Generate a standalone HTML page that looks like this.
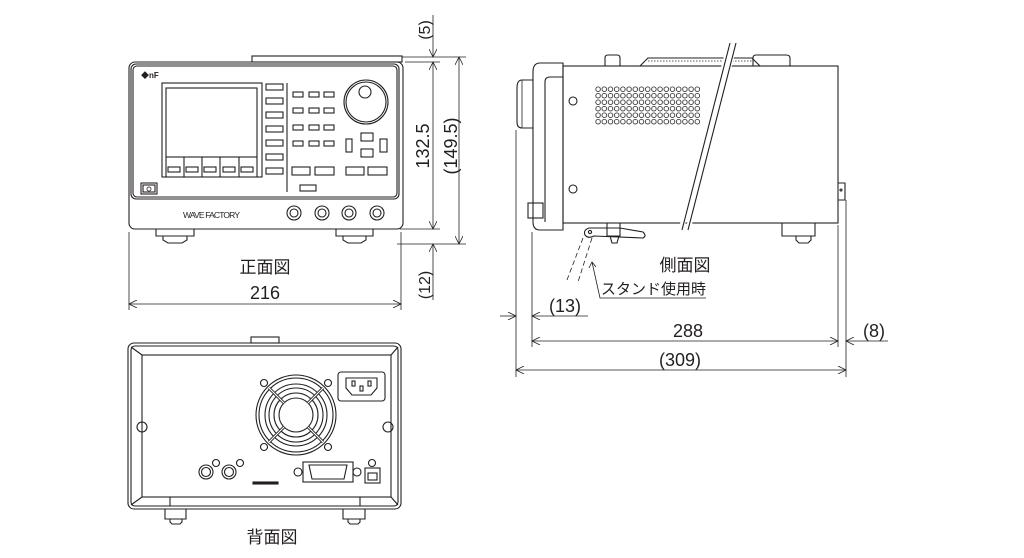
<!DOCTYPE html>
<html><head><meta charset="utf-8"><style>
html,body{margin:0;padding:0;background:#fff;}
svg{display:block;}
text{font-family:"Liberation Sans","Noto Sans CJK JP",sans-serif;fill:#231f20;}
</style></head><body>
<svg width="1024" height="558" viewBox="0 0 1024 558" xmlns="http://www.w3.org/2000/svg">
<defs>
<pattern id="vent" x="595" y="86" width="6.2" height="6.5" patternUnits="userSpaceOnUse">
<circle cx="3.1" cy="3.2" r="2.3" fill="none" stroke="#231f20" stroke-width="0.8"/>
</pattern>
<marker id="ar" viewBox="0 0 10 10" refX="10" refY="5" markerWidth="10" markerHeight="8" orient="auto-start-reverse" markerUnits="userSpaceOnUse">
<path d="M0,0 L10,5 L0,10" fill="none" stroke="#231f20" stroke-width="1"/>
</marker>
</defs>
<g fill="none" stroke="#231f20" stroke-width="1.1">
<rect x="252" y="56" width="150" height="6"/>
<rect x="129" y="62" width="274" height="167" rx="6"/>
<rect x="131" y="64" width="268" height="135" rx="5"/>
<rect x="133" y="66" width="264" height="131" rx="4"/>
<rect x="162" y="83" width="100" height="94"/>
<rect x="166" y="88" width="91" height="69"/>
<line x1="166" y1="157" x2="166" y2="177"/><line x1="184" y1="157" x2="184" y2="177"/><line x1="202" y1="157" x2="202" y2="177"/><line x1="220" y1="157" x2="220" y2="177"/><line x1="239" y1="157" x2="239" y2="177"/><line x1="257" y1="157" x2="257" y2="177"/>
<rect x="168" y="167" width="12" height="5"/><rect x="186" y="167" width="12" height="5"/><rect x="204" y="167" width="12" height="5"/><rect x="223" y="167" width="12" height="5"/><rect x="241" y="167" width="12" height="5"/>
<rect x="266" y="84" width="17" height="6"/><rect x="266" y="98" width="17" height="6"/><rect x="266" y="112" width="17" height="6"/><rect x="266" y="126" width="17" height="6"/><rect x="266" y="140" width="17" height="6"/><rect x="266" y="154" width="17" height="6"/><rect x="266" y="168" width="17" height="6"/>
<line x1="287" y1="83" x2="287" y2="192"/>
<g>
<rect x="293" y="92" width="10" height="5"/><rect x="309" y="92" width="10" height="5"/><rect x="324" y="92" width="10" height="5"/>
<rect x="293" y="108" width="10" height="5"/><rect x="309" y="108" width="10" height="5"/><rect x="324" y="108" width="10" height="5"/>
<rect x="293" y="125" width="10" height="5"/><rect x="309" y="125" width="10" height="5"/><rect x="324" y="125" width="10" height="5"/>
<rect x="293" y="141" width="10" height="5"/><rect x="309" y="141" width="10" height="5"/><rect x="324" y="141" width="10" height="5"/>
</g>
<circle cx="366" cy="102" r="22"/><circle cx="366" cy="102" r="20"/><circle cx="365" cy="92" r="6"/>
<rect x="361" y="133" width="12" height="8"/><rect x="361" y="149" width="12" height="8"/>
<rect x="346" y="139" width="6" height="13"/><rect x="380" y="139" width="7" height="13"/>
<rect x="292" y="167" width="18" height="8"/><rect x="315" y="167" width="19" height="8"/><rect x="346" y="167" width="18" height="8"/><rect x="368" y="167" width="19" height="8"/>
<rect x="300" y="185" width="16" height="6"/>
<rect x="141" y="183" width="16" height="11"/><rect x="143" y="185" width="12" height="7"/>
<circle cx="149" cy="189" r="2" stroke-width="0.8"/>
<circle cx="294" cy="213" r="7"/><circle cx="294" cy="213" r="4"/>
<circle cx="322" cy="213" r="7"/><circle cx="322" cy="213" r="4"/>
<circle cx="349" cy="213" r="7"/><circle cx="349" cy="213" r="4"/>
<circle cx="377" cy="213" r="7"/><circle cx="377" cy="213" r="4"/>
<path d="M156,229 V236 H194 V229 M163,236 V240 L168,243 H182 L187,240 V236"/>
<path d="M336,229 V236 H373 V229 M343,236 V240 L348,243 H361 L366,240 V236"/>
<line x1="402" y1="57" x2="466" y2="57" stroke-width="0.8"/>
<line x1="405" y1="62" x2="440" y2="62" stroke-width="0.8"/>
<line x1="400" y1="229" x2="440" y2="229" stroke-width="0.8"/>
<line x1="397" y1="244" x2="466" y2="244" stroke-width="0.8"/>
<line x1="433" y1="15" x2="433" y2="57" stroke-width="0.8" marker-end="url(#ar)"/>
<line x1="433" y1="62" x2="433" y2="229" stroke-width="0.8" marker-start="url(#ar)" marker-end="url(#ar)"/>
<line x1="433" y1="300" x2="433" y2="244" stroke-width="0.8" marker-end="url(#ar)"/>
<line x1="459" y1="57" x2="459" y2="244" stroke-width="0.8" marker-start="url(#ar)" marker-end="url(#ar)"/>
<line x1="129" y1="232" x2="129" y2="310" stroke-width="0.8"/>
<line x1="401" y1="232" x2="401" y2="310" stroke-width="0.8"/>
<line x1="129" y1="304" x2="401" y2="304" stroke-width="0.8" marker-start="url(#ar)" marker-end="url(#ar)"/>

<path d="M605,66 V58 Q605,55 608,55 H617 Q620,55 620,58 V66"/>
<path d="M753,66 V58 Q753,55 756,55 H786 Q790,55 790,58 V66"/>
<path d="M640,66 L648,58 H752 L760,66"/>
<line x1="648" y1="61" x2="752" y2="61" stroke-dasharray="1.5 1.5" stroke-width="0.8"/>
<rect x="563" y="66" width="275" height="157"/>
<path d="M533,72 Q533,63 540,63 H563 V230 H540 Q533,230 533,222 Z"/>
<path d="M545,82 Q545,77 550,77 H563 M545,82 V222"/>
<path d="M533,80 H522 Q517,80 517,88 V122 Q517,128 522,128 H533"/>
<line x1="522" y1="80" x2="522" y2="128" stroke-width="0.8"/>
<rect x="528" y="203" width="15" height="15"/>
<rect x="595" y="86" width="105" height="39" fill="url(#vent)" stroke="none"/>
<circle cx="573" cy="101" r="4"/><circle cx="573" cy="189" r="4"/>
<path d="M607,223 V236 H620 V223 M610,236 L612,243 H617 L619,236"/>
<path d="M782,223 V236 H815 V223 M796,236 V240 L799,243 H808 L811,240 V236"/>
<path d="M838,183 H845 V200 H838"/>
<circle cx="841" cy="190" r="1"/>
<path d="M589,228 Q583,230 585,235 Q588,239 594,236 L643,238 Q647,236 643,232 L620,228 Z"/>
<circle cx="590" cy="232" r="1.6"/>
<path d="M583,238 L567,280 M592,238 L578,282" stroke-dasharray="5 3" stroke-width="0.8"/>
<path d="M730,43 L681,230 M735,43 L688,230" stroke="#fff" stroke-width="5"/>
<line x1="730" y1="43" x2="682" y2="230"/><line x1="736" y1="43" x2="688" y2="230"/>
<path d="M706,298 H600 L592,262" stroke-width="0.8"/>
<path d="M589,268 L592,262 L596,267" stroke-width="0.8"/>
<line x1="516" y1="130" x2="516" y2="377" stroke-width="0.8"/>
<line x1="532" y1="232" x2="532" y2="347" stroke-width="0.8"/>
<line x1="838" y1="225" x2="838" y2="347" stroke-width="0.8"/>
<line x1="846" y1="200" x2="846" y2="377" stroke-width="0.8"/>
<line x1="500" y1="316" x2="516" y2="316" stroke-width="0.8" marker-end="url(#ar)"/>
<line x1="588" y1="316" x2="532" y2="316" stroke-width="0.8" marker-end="url(#ar)"/>
<line x1="532" y1="341" x2="838" y2="341" stroke-width="0.8" marker-start="url(#ar)" marker-end="url(#ar)"/>
<line x1="888" y1="341" x2="846" y2="341" stroke-width="0.8" marker-end="url(#ar)"/>
<line x1="516" y1="370" x2="846" y2="370" stroke-width="0.8" marker-start="url(#ar)" marker-end="url(#ar)"/>

<rect x="251" y="337" width="28" height="6"/>
<rect x="128" y="343" width="273" height="166" rx="6"/>
<rect x="131" y="346" width="267" height="160" rx="4"/>
<rect x="142" y="355" width="249" height="142"/>
<line x1="131" y1="347" x2="142" y2="355"/><line x1="398" y1="347" x2="391" y2="355"/>
<line x1="131" y1="505" x2="142" y2="497"/><line x1="398" y1="505" x2="391" y2="497"/>
<line x1="170" y1="497" x2="170" y2="506"/><line x1="360" y1="497" x2="360" y2="506"/>
<circle cx="142" cy="427" r="5"/><circle cx="388" cy="427" r="5"/>
<circle cx="296" cy="415" r="40"/><circle cx="296" cy="415" r="37"/>
<circle cx="296" cy="415" r="31"/><circle cx="296" cy="415" r="27"/><circle cx="296" cy="415" r="22"/><circle cx="296" cy="415" r="17"/>
<path d="M269,388 L284,403 M323,388 L308,403 M269,442 L284,427 M323,442 L308,427" stroke-width="3"/>
<path d="M269,388 L284,403 M323,388 L308,403 M269,442 L284,427 M323,442 L308,427" stroke="#fff" stroke-width="1.2"/>
<circle cx="264" cy="383" r="3.5"/><circle cx="328" cy="383" r="3.5"/><circle cx="264" cy="447" r="3.5"/><circle cx="328" cy="447" r="3.5"/>
<rect x="338" y="372" width="47" height="29" rx="3"/>
<path d="M346,378 H377 V388 L371,395 H352 L346,388 Z"/>
<rect x="352" y="381" width="3" height="5"/><rect x="360" y="386" width="3" height="5"/><rect x="368" y="381" width="3" height="5"/>
<circle cx="206" cy="472" r="7"/><circle cx="206" cy="472" r="4.5"/>
<circle cx="229" cy="472" r="7"/><circle cx="229" cy="472" r="4.5"/>
<circle cx="216" cy="463" r="3.5"/><circle cx="240" cy="463" r="3.5"/>
<rect x="253" y="482" width="25" height="2" fill="#231f20"/>
<rect x="303" y="462" width="50" height="20"/>
<path d="M309,465 H347 L344,479 H312 Z"/>
<circle cx="298" cy="472" r="4"/><circle cx="357" cy="472" r="4"/>
<rect x="365" y="468" width="15" height="15"/><rect x="368" y="473" width="9" height="7"/>
<circle cx="372" cy="463" r="3.5"/>
<path d="M165,509 V519 H186 V509 M170,519 V522 L172,524 H180 L182,522 V519"/>
<path d="M343,509 V519 H365 V509 M348,519 V522 L350,524 H358 L360,522 V519"/>
</g>

<text x="141" y="78" font-size="8" font-weight="bold">◆nF</text>
<text x="183" y="218" font-size="8.5" textLength="57">WAVE FACTORY</text>
<text x="265" y="273" font-size="17" text-anchor="middle">正面図</text>
<text x="265" y="299" font-size="18" text-anchor="middle">216</text>
<text transform="translate(430,30) rotate(-90)" font-size="16" text-anchor="middle">(5)</text>
<text transform="translate(429,146) rotate(-90)" font-size="18" text-anchor="middle">132.5</text>
<text transform="translate(457,146) rotate(-90)" font-size="18" text-anchor="middle">(149.5)</text>
<text transform="translate(430,285) rotate(-90)" font-size="16" text-anchor="middle">(12)</text>
<text x="685" y="271" font-size="17" text-anchor="middle">側面図</text>
<text x="601" y="294" font-size="15">スタンド使用時</text>
<text x="565" y="312" font-size="18" text-anchor="middle">(13)</text>
<text x="688" y="337" font-size="18" text-anchor="middle">288</text>
<text x="874" y="337" font-size="18" text-anchor="middle">(8)</text>
<text x="680" y="366" font-size="18" text-anchor="middle">(309)</text>
<text x="272" y="543" font-size="17" text-anchor="middle">背面図</text>
</svg>
</body></html>
